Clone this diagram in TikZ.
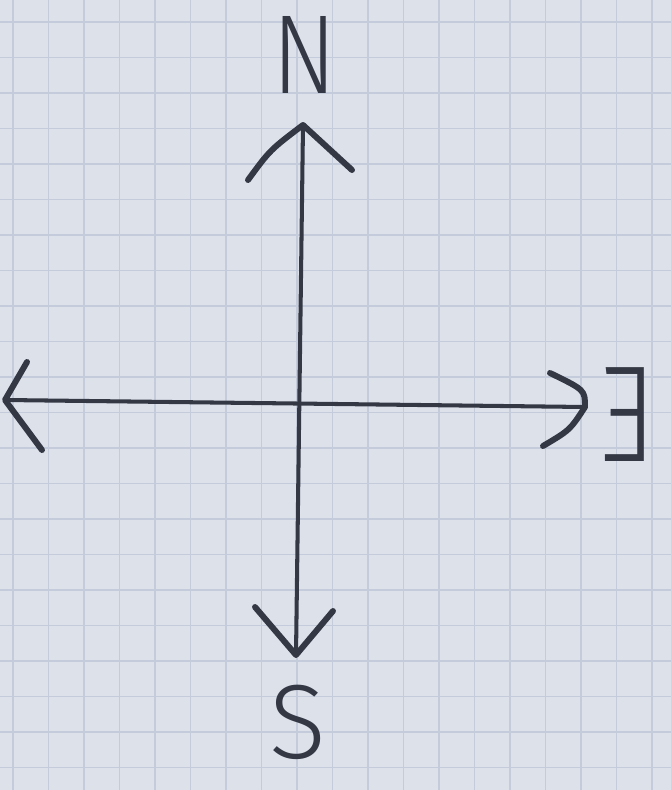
\documentclass[tikz,border=0pt]{standalone}
\usepackage{fontspec}
\newfontfamily\handfont{Fira Sans}[UprightFont=* Light]
\definecolor{paper}{RGB}{221,225,234}
\definecolor{gridc}{RGB}{196,204,219}
\definecolor{ink}{RGB}{52,56,68}
\tikzset{
  axisline/.style={draw=ink, line width=2.3pt, line cap=round},
  headline/.style={draw=ink, line width=3.4pt, line cap=round, line join=round},
  letter/.style={text=ink, inner sep=0pt, font=\handfont\fontsize{64}{64}\selectfont}
}
\begin{document}
\begin{tikzpicture}[x=0.02cm, y=-0.02cm]
  \fill[paper] (0,0) rectangle (671,790);
  \useasboundingbox (0,0) rectangle (671,790);
  % graph paper grid
  \foreach \i in {0,...,18} {
    \draw[gridc, line width=0.7pt] ({13+35.5*\i},0) -- ({13+35.5*\i},790);
  }
  \foreach \j in {0,...,22} {
    \draw[gridc, line width=0.7pt] (0,{22+35.5*\j}) -- (671,{22+35.5*\j});
  }
  % tips
  \coordinate (Ntip) at (303,125);
  \coordinate (Stip) at (296,655);
  \coordinate (Wtip) at (5,400);
  \coordinate (Etip) at (585,407);
  % arrowhead arm ends
  \coordinate (Na) at (248,180);
  \coordinate (Nb) at (352,170);
  \coordinate (Sa) at (255,607);
  \coordinate (Sb) at (333,611);
  \coordinate (Wa) at (27,362);
  \coordinate (Wb) at (42,450);
  \coordinate (Ea) at (550,373);
  \coordinate (Eb) at (543,446);
  % axes
  \draw[axisline] (Stip) -- (Ntip);
  \draw[axisline] (Wtip) -- (Etip);
  % arrowheads
  \draw[headline] (Na) .. controls (270,150) .. (Ntip) -- (Nb);
  \draw[headline] (Sa) -- (Stip) -- (Sb);
  \draw[headline] (Wa) -- (Wtip) -- (Wb);
  \draw[headline] (Ea) .. controls (585,390) .. (Etip) .. controls (570,430) .. (Eb);
  % labels
  \node[letter, xscale=0.85] (N) at (305,55) {N};
  \node[letter, xscale=-0.8, font=\handfont\fontsize{78}{78}\selectfont] (E) at (628,415) {E};
  \node[letter, font=\handfont\fontsize{60}{60}\selectfont] (S) at (298,722) {S};
\end{tikzpicture}
\end{document}
